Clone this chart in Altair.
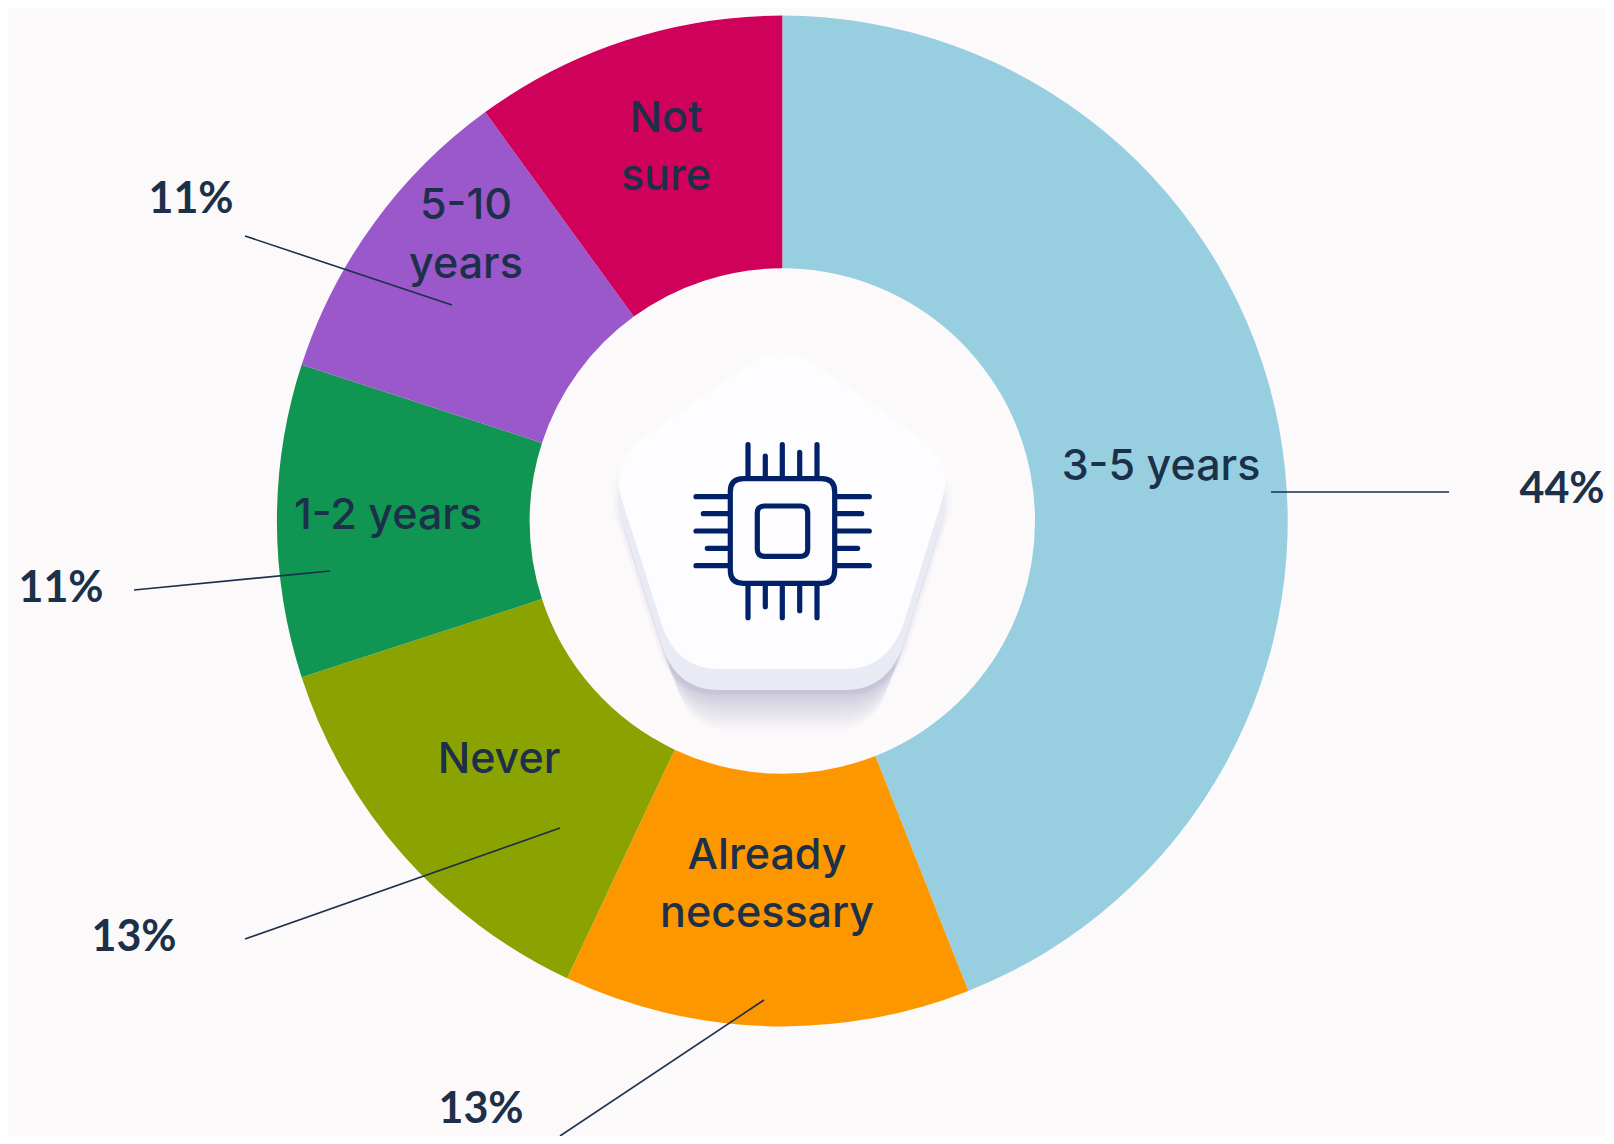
import altair as alt
import pandas as pd

# --- chart data ---
categories = ["3-5 years", "Already necessary", "Never", "1-2 years", "5-10 years", "Not sure"]
values = [44, 13, 13, 10, 10, 10]
colors = ["#97CFE0", "#FC9700", "#8BA300", "#109552", "#9A58CA", "#D0015B"]

# in-slice labels (reference pixels)
label_text = ["3-5 years", "Already", "necessary", "Never", "1-2 years", "5-10", "years", "Not", "sure"]
label_x = [1161, 767, 767, 499, 388, 466, 466, 666, 666]
label_y = [467, 856, 914, 760, 516, 206, 265, 119, 177]

pct_text = ["44%", "13%", "13%", "11%", "11%"]
pct_x = [1562, 481, 134, 61, 191]
pct_y = [490, 1110, 938, 589, 200]

line_x1 = [1271, 560, 245, 134, 245]
line_y1 = [492, 1136, 939, 590, 236]
line_x2 = [1449, 764, 560, 330, 452]
line_y2 = [492, 1000, 828, 571, 305]

CX, CY = 782.3, 521.0
OFF = 8
BG = "#FBF9FA"
TEXT = "#1C3049"


def X(f):
    return alt.X(f, type="quantitative", scale=None, axis=None)


def Y(f):
    return alt.Y(f, type="quantitative", scale=None, axis=None)


# --- donut ---
donut = pd.DataFrame({"cat": categories, "v": values, "i": range(len(values))})
arcs = alt.Chart(donut).mark_arc(innerRadius=252.7, outerRadius=505.4).encode(
    theta=alt.Theta("v:Q", stack=True),
    order=alt.Order("i:Q"),
    color=alt.Color("cat:N", scale=alt.Scale(domain=categories, range=colors), legend=None),
    x=alt.value(CX - OFF),
    y=alt.value(CY - OFF),
)


# --- centre badge, paths relative to the centre ---
def rel(pts):
    return " ".join(
        p if isinstance(p, str) else f"{p[0] - CX:.1f},{p[1] - CY:.1f}" for p in pts
    )


pentagon = rel([
    "M", (748, 365), "Q", (782.3, 341), (816.6, 365),
    "L", (921, 438), "Q", (952, 462), (943, 497),
    "L", (905, 619), "Q", (890, 669), (845, 669),
    "L", (719, 669), "Q", (674, 669), (660, 619),
    "L", (621, 497), "Q", (612, 462), (643, 438), "Z",
])


def badge(scale, dy, fill, opacity=1.0):
    return alt.Chart(pd.DataFrame({"x": [CX - OFF], "y": [CY - OFF + dy]})).mark_point(
        shape=pentagon, size=4 * scale * scale, filled=True, fill=fill, opacity=opacity, strokeWidth=0
    ).encode(x=X("x"), y=Y("y"))


halo_scale = [1.045, 1.035, 1.025, 1.015]
halo_dy = [18, 20, 22, 24]
halos = [badge(s, d, "#5F6288", 0.012) for s, d in zip(halo_scale, halo_dy)]
shadow_dy = [22, 26, 30, 34, 38, 42, 46, 50, 54, 58, 62, 66, 70, 74, 78, 82]
shadow_scale = [1.01, 1.0, 0.99, 0.98, 0.97, 0.96, 0.95, 0.94, 0.93, 0.92, 0.91, 0.9, 0.89, 0.88, 0.87, 0.86]
shadows = [badge(s, d, "#5F6288", 0.02) for s, d in zip(shadow_scale, shadow_dy)]
side = badge(1.0, 21, "#E8EAF4")
top = badge(1.0, 0, "#FDFDFF")

pin_top_x = [748, 765.3, 782.3, 799.7, 817]
pin_top_end = [444.7, 456, 444.7, 452.3, 444.7]
pin_bottom_end = [617.7, 606.7, 617.7, 610.7, 617.7]
pin_side_y = [496.7, 513.7, 531, 548.3, 565.7]
pin_left_end = [696, 703.3, 696, 707.3, 696]
pin_right_end = [869.3, 861.7, 869.3, 857.7, 869.3]
L, R, T, B = 730.3, 834.7, 478.7, 583.3


def rrect(x0, y0, x1, y1, r):
    return rel([
        "M", (x0 + r, y0), "L", (x1 - r, y0), "Q", (x1, y0), (x1, y0 + r),
        "L", (x1, y1 - r), "Q", (x1, y1), (x1 - r, y1),
        "L", (x0 + r, y1), "Q", (x0, y1), (x0, y1 - r),
        "L", (x0, y0 + r), "Q", (x0, y0), (x0 + r, y0), "Z",
    ])


pins = []
for x, a, b in zip(pin_top_x, pin_top_end, pin_bottom_end):
    pins.append(rel(["M", (x, a), "L", (x, T), "M", (x, B), "L", (x, b)]))
for y, a, b in zip(pin_side_y, pin_left_end, pin_right_end):
    pins.append(rel(["M", (a, y), "L", (L, y), "M", (R, y), "L", (b, y)]))
chip_path = " ".join(pins + [rrect(L, T, R, B, 13), rrect(757.3, 506, 807.7, 556.3, 7)])

chip = alt.Chart(pd.DataFrame({"x": [CX - OFF], "y": [CY - OFF]})).mark_point(
    shape=chip_path, size=4, filled=False, stroke="#012169", strokeWidth=5.2,
    strokeCap="round", strokeJoin="round", opacity=1,
).encode(x=X("x"), y=Y("y"))

# --- leader lines and labels ---
lines = pd.DataFrame({
    "x": [v - OFF for v in line_x1], "x2": [v - OFF for v in line_x2],
    "y": [v - OFF for v in line_y1], "y2": [v - OFF for v in line_y2],
})
rules = alt.Chart(lines).mark_rule(stroke="#1B2F4B", strokeWidth=1.6).encode(
    x=X("x"), x2=alt.X2("x2"), y=Y("y"), y2=alt.Y2("y2")
)

labels = alt.Chart(pd.DataFrame({
    "t": label_text, "x": [v - OFF for v in label_x], "y": [v - OFF for v in label_y],
})).mark_text(font="Inter", fontSize=43, fontWeight=500, fill=TEXT, align="center", baseline="middle").encode(
    x=X("x"), y=Y("y"), text="t:N"
)
pcts = alt.Chart(pd.DataFrame({
    "t": pct_text, "x": [v - OFF for v in pct_x], "y": [v - OFF for v in pct_y],
})).mark_text(font="Lato", fontSize=43, fontWeight=700, fill=TEXT, align="center", baseline="middle").encode(
    x=X("x"), y=Y("y"), text="t:N"
)

chart = alt.layer(arcs, *halos, *shadows, side, top, chip, rules, labels, pcts).properties(
    width=1598, height=1128, background=BG, padding=0,
    autosize=alt.AutoSizeParams(type="none"),
).configure_view(stroke=None)

chart.save("out.html", embed_options={"renderer": "svg", "actions": False})
